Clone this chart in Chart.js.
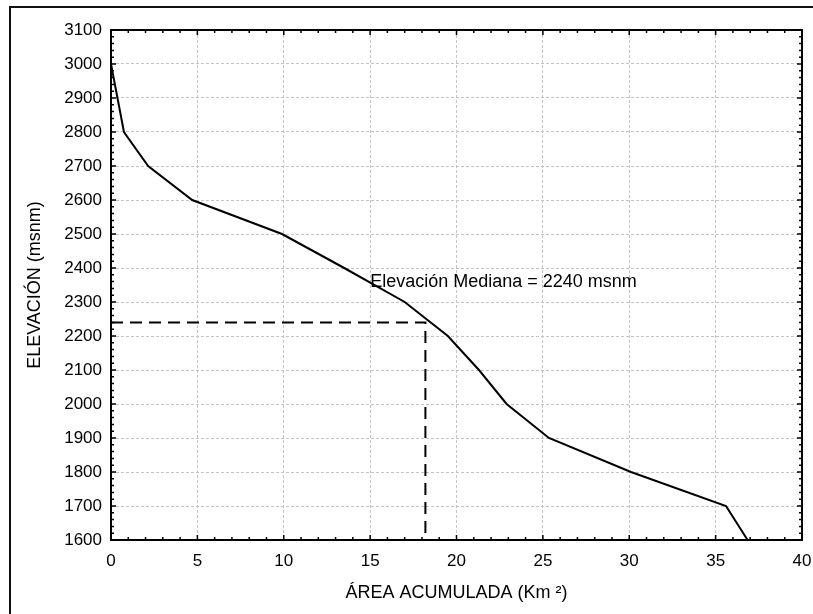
<!DOCTYPE html>
<html>
<head>
<meta charset="utf-8">
<script src="https://cdn.jsdelivr.net/npm/chart.js@4.4.0/dist/chart.umd.min.js"></script>
<style>
  html, body { margin: 0; padding: 0; background: #fff; }
  #wrap { width: 813px; height: 614px; }
</style>
</head>
<body>
<div id="wrap"><canvas id="curva" width="813" height="614"></canvas></div>
<script>
// curva hipsometrica
const areaKm2 = [0, 0.75, 2.15, 4.7, 9.9, 13.5, 17.0, 19.5, 21.3, 22.9, 25.35, 30.1, 35.6, 36.85];
const elevacion = [3000, 2800, 2700, 2600, 2500, 2400, 2300, 2200, 2100, 2000, 1900, 1800, 1700, 1600];

// linea de la mediana
const medianaX = [0, 18.2, 18.2];
const medianaY = [2240, 2240, 1600];
const textoMediana = "Elevación Mediana = 2240 msnm";

const xTicks = [0, 5, 10, 15, 20, 25, 30, 35, 40];
const yTicks = [1600, 1700, 1800, 1900, 2000, 2100, 2200, 2300, 2400, 2500, 2600, 2700, 2800, 2900, 3000, 3100];

const FONT = "'Liberation Sans', Arial, sans-serif";

function toPoints(xs, ys) {
  return xs.map((x, i) => ({ x: x, y: ys[i] }));
}

// bordes, marcas interiores y texto de la mediana
const marcoPlugin = {
  id: "marco",
  afterDraw(chart) {
    const ctx = chart.ctx;
    const a = chart.chartArea;
    const xs = chart.scales.x;
    const ys = chart.scales.y;

    ctx.save();
    // marco exterior
    ctx.strokeStyle = "#111";
    ctx.lineWidth = 2;
    ctx.beginPath();
    ctx.moveTo(10, 640);
    ctx.lineTo(10, 7);
    ctx.lineTo(830, 7);
    ctx.stroke();

    // marcas
    ctx.lineWidth = 1.5;
    ctx.strokeStyle = "#000";
    ctx.beginPath();
    for (let v = 0; v <= 40; v += 1) {
      const px = xs.getPixelForValue(v);
      const len = v % 5 === 0 ? 5 : 3;
      ctx.moveTo(px, a.bottom);
      ctx.lineTo(px, a.bottom - len);
      ctx.moveTo(px, a.top);
      ctx.lineTo(px, a.top + len);
    }
    for (let v = 1600; v <= 3100; v += 20) {
      const py = ys.getPixelForValue(v);
      const len = v % 100 === 0 ? 5 : 3;
      ctx.moveTo(a.left, py);
      ctx.lineTo(a.left + len, py);
      ctx.moveTo(a.right, py);
      ctx.lineTo(a.right - len, py);
    }
    ctx.stroke();

    // marco del grafico
    ctx.lineWidth = 2;
    ctx.strokeRect(a.left, a.top, a.right - a.left, a.bottom - a.top);

    // texto
    ctx.fillStyle = "#000";
    ctx.font = "18px " + FONT;
    ctx.textAlign = "left";
    ctx.textBaseline = "middle";
    ctx.fillText(textoMediana, xs.getPixelForValue(15.0), ys.getPixelForValue(2360));
    ctx.restore();
  }
};

new Chart(document.getElementById("curva").getContext("2d"), {
  type: "scatter",
  data: {
    datasets: [
      {
        data: toPoints(areaKm2, elevacion),
        showLine: true,
        borderColor: "#000",
        borderWidth: 2,
        pointRadius: 0,
        tension: 0
      },
      {
        data: toPoints(medianaX, medianaY),
        showLine: true,
        borderColor: "#000",
        borderWidth: 2,
        borderDash: [12, 7],
        pointRadius: 0,
        tension: 0
      }
    ]
  },
  options: {
    responsive: false,
    animation: false,
    layout: { padding: { top: 30, right: 11, left: 0, bottom: 0 } },
    plugins: {
      legend: { display: false },
      tooltip: { enabled: false }
    },
    scales: {
      x: {
        type: "linear",
        min: 0,
        max: 40,
        afterBuildTicks: (s) => { s.ticks = xTicks.map((v) => ({ value: v })); },
        afterFit: (s) => { s.height = 74; s.paddingLeft = 0; s.paddingRight = 0; },
        ticks: { color: "#000", padding: 11, font: { family: FONT, size: 17 }, callback: (v) => String(v) },
        grid: { color: "#c4c4c4", lineWidth: 1, drawTicks: false },
        border: { display: false, dash: [3, 2] },
        title: {
          display: true,
          text: "ÁREA ACUMULADA (Km ²)",
          color: "#000",
          font: { family: FONT, size: 18 },
          padding: { top: 0, bottom: 10 }
        }
      },
      y: {
        type: "linear",
        min: 1600,
        max: 3100,
        afterBuildTicks: (s) => { s.ticks = yTicks.map((v) => ({ value: v })); },
        afterFit: (s) => { s.width = 111; s.paddingTop = 0; s.paddingBottom = 0; },
        ticks: { color: "#000", padding: 9, font: { family: FONT, size: 17 }, callback: (v) => String(v) },
        grid: { color: "#c4c4c4", lineWidth: 1, drawTicks: false },
        border: { display: false, dash: [3, 2] },
        title: {
          display: true,
          text: "ELEVACIÓN (msnm)",
          color: "#000",
          font: { family: FONT, size: 18 },
          padding: { top: 24, bottom: 0 }
        }
      }
    }
  },
  plugins: [marcoPlugin]
});
</script>
</body>
</html>
